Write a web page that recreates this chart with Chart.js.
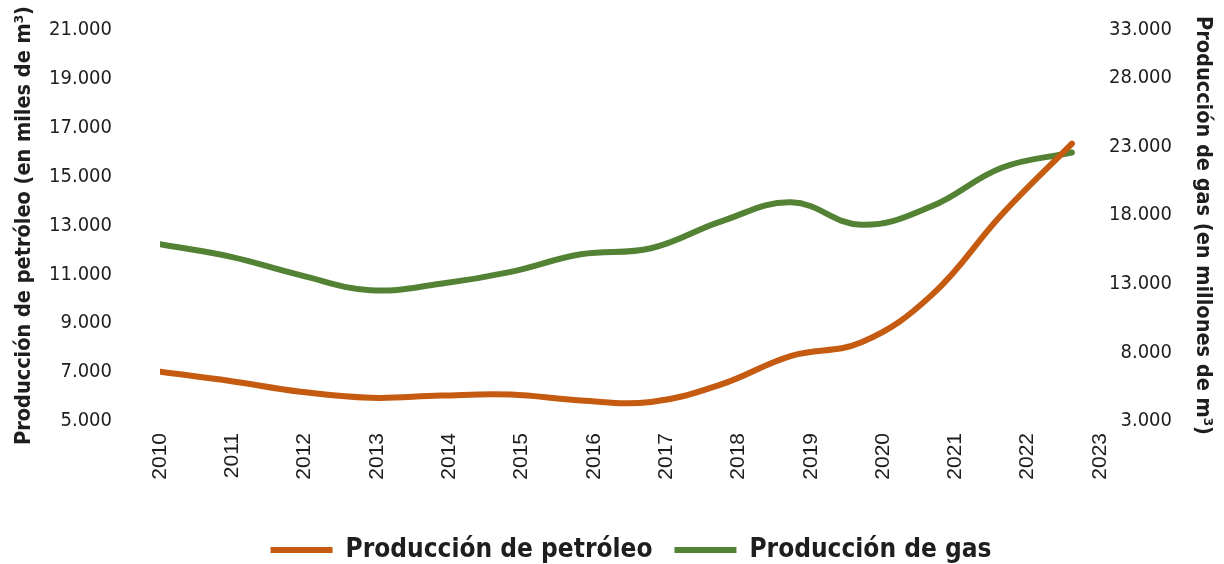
<!DOCTYPE html>
<html lang="es">
<head>
<meta charset="utf-8">
<script src="https://cdn.jsdelivr.net/npm/chart.js@4.4.1/dist/chart.umd.min.js"></script>
<style>
  html, body { margin: 0; padding: 0; background: #fff; }
  #wrap { width: 1224px; height: 564px; }
</style>
</head>
<body>
<div id="wrap"><canvas id="grafico" width="1224" height="564"></canvas></div>
<script>
// datos
const anios = ['2010', '2011', '2012', '2013', '2014', '2015', '2016', '2017', '2018', '2019', '2020', '2021', '2022', '2023'];
const petroleo = [7020, 6640, 6200, 5950, 6040, 6080, 5840, 5780, 6500, 7670, 8220, 10150, 13450, 16350];
const gas = [15880, 14980, 13630, 12530, 13000, 13870, 15150, 15590, 17550, 18940, 17300, 18650, 21460, 22570];
const ticksGas = [3000, 8000, 13000, 18000, 23000, 28000, 33000];

const naranja = '#C55A11';
const verde = '#548235';
const texto = '#1e1e1e';
const narrow = "'Liberation Sans Narrow', 'DejaVu Sans Condensed', 'Arial Narrow', sans-serif";

const miles = v => String(v).replace(/\B(?=(\d{3})+(?!\d))/g, '.');

// la leyenda va centrada bajo el area del grafico, no bajo todo el lienzo
const moverLeyenda = {
    id: 'moverLeyenda',
    afterLayout(chart) {
        chart.legend.left += 45;
        chart.legend.right += 45;
    }
};

// sin relleno automatico: el area del grafico queda donde la pone layout.padding
const sinRelleno = s => {
    s.paddingTop = 0;
    s.paddingBottom = 0;
    s.paddingLeft = 0;
    s.paddingRight = 0;
};

const config = {
    type: 'line',
    data: {
        labels: anios,
        datasets: [{
            label: 'Producción de petróleo',
            data: petroleo.map((v, i) => ({x: i, y: v})),
            borderColor: naranja,
            backgroundColor: naranja,
            borderWidth: 6,
            borderCapStyle: 'round',
            pointRadius: 0,
            tension: 0.4,
            xAxisID: 'xd',
            yAxisID: 'y'
        }, {
            label: 'Producción de gas',
            data: gas.map((v, i) => ({x: i, y: v})),
            borderColor: verde,
            backgroundColor: verde,
            borderWidth: 6,
            borderCapStyle: 'round',
            pointRadius: 0,
            tension: 0.4,
            xAxisID: 'xd',
            yAxisID: 'y1'
        }]
    },
    options: {
        responsive: false,
        animation: false,
        devicePixelRatio: 1,
        layout: {
            autoPadding: false,
            padding: {left: 0, right: 52, top: 30, bottom: -9}
        },
        scales: {
            x: {
                type: 'category',
                offset: false,
                grid: {display: false, drawTicks: false},
                border: {display: false},
                ticks: {
                    color: texto,
                    minRotation: 90,
                    maxRotation: 90,
                    padding: 12,
                    autoSkip: false,
                    font: {family: "'Liberation Sans', Arial, sans-serif", size: 21}
                },
                afterFit: s => { s.height = 94; sinRelleno(s); }
            },
            xd: {
                type: 'linear',
                display: false,
                min: 0,
                max: 13.4
            },
            y: {
                position: 'left',
                min: 5000,
                max: 21000,
                grid: {display: false, drawTicks: false},
                border: {display: false},
                ticks: {
                    stepSize: 2000,
                    color: texto,
                    padding: 48,
                    font: {family: narrow, size: 20},
                    callback: v => miles(v)
                },
                title: {
                    display: true,
                    text: 'Producción de petróleo (en miles de m³)',
                    color: texto,
                    padding: {top: 12, bottom: 0},
                    font: {family: narrow, size: 21.5, weight: 'bold'}
                },
                afterFit: s => { s.width = 160; sinRelleno(s); }
            },
            y1: {
                position: 'right',
                min: 3000,
                max: 31500,
                grid: {display: false, drawTicks: false},
                border: {display: false},
                afterBuildTicks: s => {
                    s.ticks = ticksGas.map(v => ({value: Math.min(v, s.max)}));
                },
                ticks: {
                    color: texto,
                    crossAlign: 'far',
                    font: {family: narrow, size: 20},
                    callback: (v, i) => miles(ticksGas[i])
                },
                title: {
                    display: true,
                    text: 'Producción de gas (en millones de m³)',
                    color: texto,
                    padding: {top: -43, bottom: 0},
                    font: {family: narrow, size: 21.5, weight: 'bold'}
                },
                afterFit: s => { s.width = 72; sinRelleno(s); }
            }
        },
        plugins: {
            legend: {
                position: 'bottom',
                labels: {
                    color: texto,
                    usePointStyle: true,
                    pointStyle: 'line',
                    pointStyleWidth: 62,
                    padding: 22,
                    font: {family: narrow, size: 26, weight: 'bold'}
                }
            },
            tooltip: {enabled: false}
        }
    },
    plugins: [moverLeyenda]
};

const myChart = new Chart(
    document.getElementById('grafico'),
    config
);
</script>
</body>
</html>
